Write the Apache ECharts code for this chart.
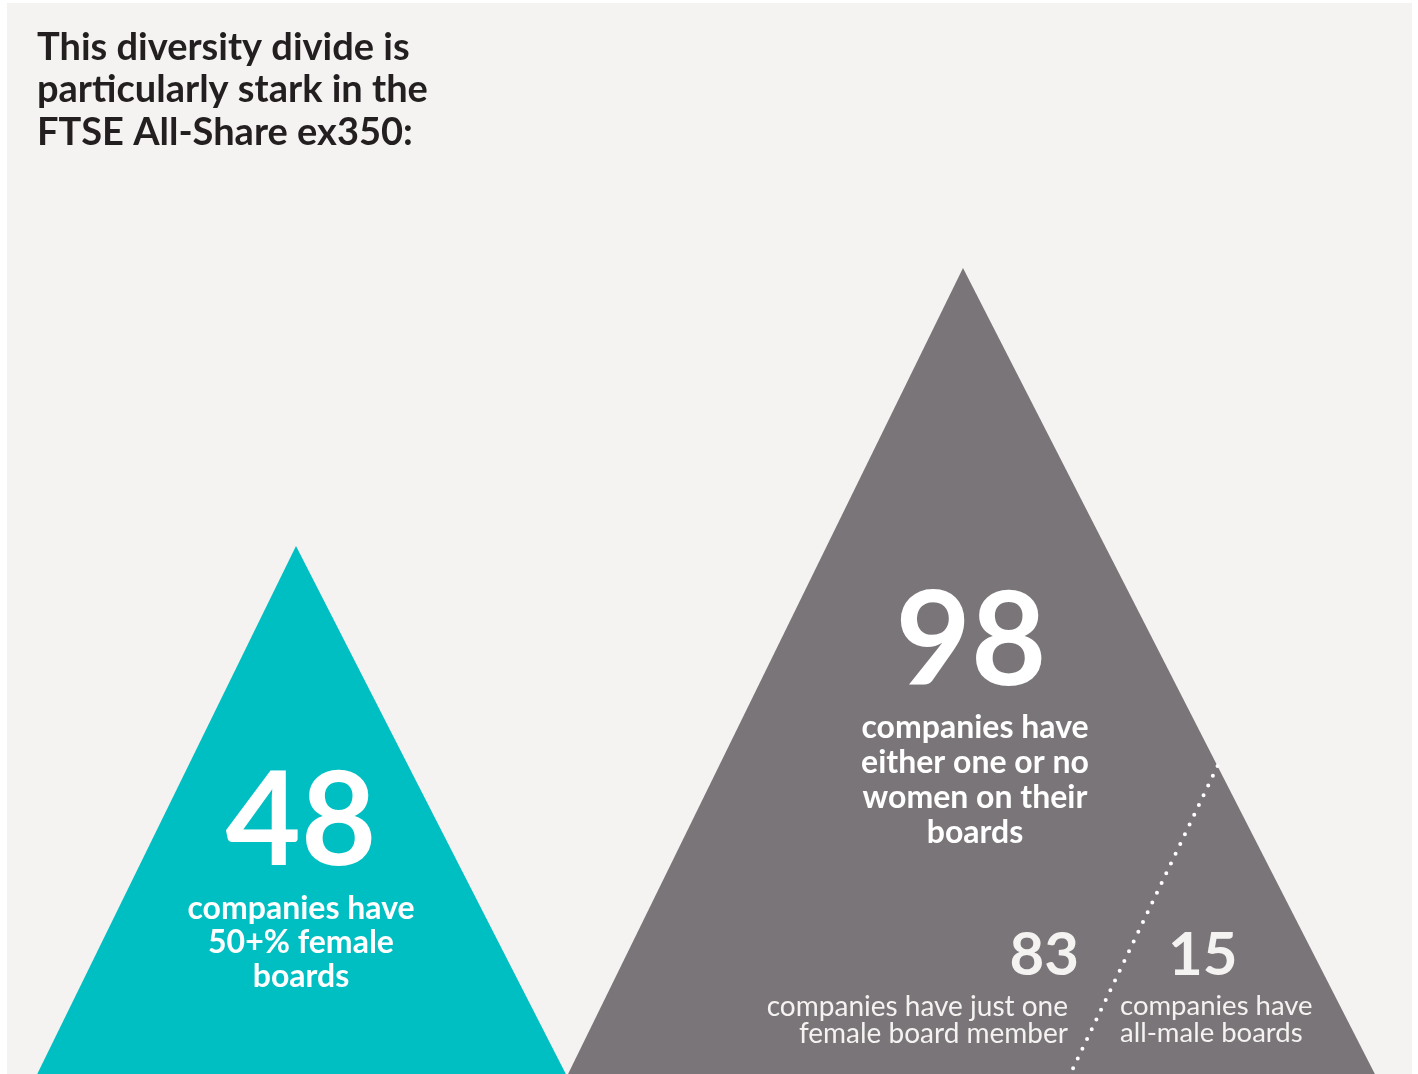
<!DOCTYPE html>
<html>
<head>
<meta charset="utf-8">
<script src="https://cdn.jsdelivr.net/npm/echarts@6/dist/echarts.min.js"></script>
<style>html,body{margin:0;padding:0;background:#fff}#c{width:1418px;height:1074px}</style>
</head>
<body>
<div id="c"></div>
<script>
// ---- data ----
const titleLines = ['This diversity divide is', 'particularly stark in the', 'FTSE All-Share ex350:'];
const categories = ['50+% female boards', 'One or no women on board'];
const counts = [48, 98];
const countLabels = ['companies have\n50+% female\nboards', 'companies have\neither one or no\nwomen on their\nboards'];
const splitValues = [83, 15];
const splitLabels = ['companies have just one\nfemale board member', 'companies have\nall-male boards'];
const axisMin = -47; // truncated baseline of the peaks

const colors = ['#00bfc2', '#7a7579'];
const FONT = 'Lato, "Open Sans", sans-serif';

const chart = echarts.init(document.getElementById('c'), null, {renderer: 'canvas'});

const option = {
  backgroundColor: '#ffffff',
  animation: false,
  title: {
    text: titleLines.join('\n'),
    left: 37, top: 26, padding: 0,
    textStyle: {fontFamily: FONT, fontSize: 38, fontWeight: 'bold', color: '#231f20', lineHeight: 42.5}
  },
  grid: {left: 296, right: 455, top: 268, bottom: 0},
  xAxis: {type: 'category', data: categories, boundaryGap: false, show: false},
  yAxis: {type: 'value', min: axisMin, max: 98, show: false},
  graphic: [
    {type: 'rect', z: -10, shape: {x: 7, y: 3, width: 1405, height: 1071}, style: {fill: '#f4f3f1'}},
    {type: 'text', z: 100, x: 301, y: 823, style: {text: String(counts[0]), fill: '#fff', font: 'bold 130px ' + FONT, textAlign: 'center', textVerticalAlign: 'middle'}},
    {type: 'text', z: 100, x: 301, y: 943, style: {text: countLabels[0], fill: '#fff', font: 'bold 32px ' + FONT, lineHeight: 34, textAlign: 'center', textVerticalAlign: 'middle'}},
    {type: 'text', z: 100, x: 971, y: 643, style: {text: String(counts[1]), fill: '#fff', font: 'bold 130px ' + FONT, textAlign: 'center', textVerticalAlign: 'middle'}},
    {type: 'text', z: 100, x: 975, y: 780, style: {text: countLabels[1], fill: '#fff', font: 'bold 32px ' + FONT, lineHeight: 35, textAlign: 'center', textVerticalAlign: 'middle'}},
    {type: 'text', z: 100, x: 1079, y: 956, style: {text: String(splitValues[0]), fill: '#f4f3f1', font: 'bold 60px ' + FONT, textAlign: 'right', textVerticalAlign: 'middle'}},
    {type: 'text', z: 100, x: 1068, y: 1020, style: {text: splitLabels[0], fill: '#f4f3f1', font: '28px ' + FONT, lineHeight: 27, textAlign: 'right', textVerticalAlign: 'middle'}},
    {type: 'text', z: 100, x: 1168, y: 956, style: {text: String(splitValues[1]), fill: '#f4f3f1', font: 'bold 60px ' + FONT, textAlign: 'left', textVerticalAlign: 'middle'}},
    {type: 'text', z: 100, x: 1120, y: 1020, style: {text: splitLabels[1], fill: '#f4f3f1', font: '27.5px ' + FONT, lineHeight: 27, textAlign: 'left', textVerticalAlign: 'middle'}}
  ],
  series: [{
    type: 'custom',
    clip: false,
    data: counts.map((v, i) => [i, v]),
    renderItem: function (params, api) {
      const i = params.dataIndex;
      const apex = api.coord([api.value(0), api.value(1)]);
      const base = api.coord([api.value(0), axisMin]);
      const h = base[1] - apex[1];
      const L = [apex[0] - h * 0.49, base[1]];
      const R = [apex[0] + h * 0.511, base[1]];
      const children = [{
        type: 'polygon',
        shape: {points: [apex, R, L]},
        style: {fill: colors[i]}
      }];
      if (i === 1) {
        const t = 0.618; // point down the right edge
        const p1 = [apex[0] + (R[0] - apex[0]) * t, apex[1] + (R[1] - apex[1]) * t];
        const f = 0.6225; // point along the base
        const p2 = [L[0] + (R[0] - L[0]) * f, base[1]];
        children.push({
          type: 'line',
          shape: {x1: p1[0], y1: p1[1], x2: p2[0], y2: p2[1]},
          style: {stroke: '#ffffff', lineWidth: 4, lineDash: [0, 10.8], lineCap: 'round'}
        });
      }
      return {type: 'group', children: children};
    }
  }]
};
chart.setOption(option);
</script>
</body>
</html>
